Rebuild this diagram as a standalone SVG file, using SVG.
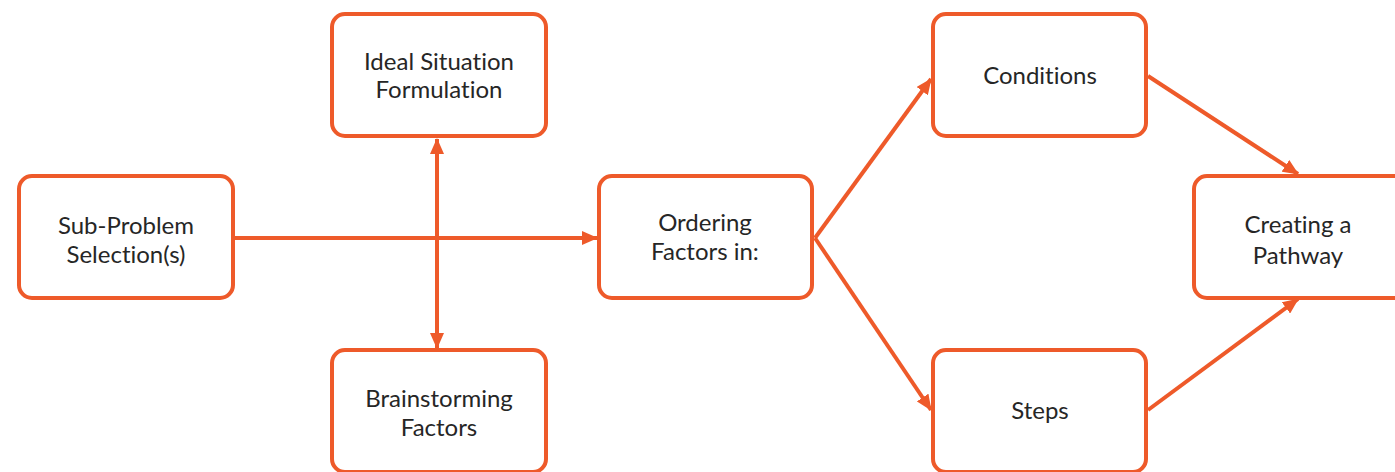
<svg xmlns="http://www.w3.org/2000/svg" width="1395" height="472" viewBox="0 0 1395 472">
  <defs>
    <style>
      .box { fill: #ffffff; stroke: #EE5A2A; stroke-width: 4; }
      .label { font-family: Lato, "Liberation Sans", sans-serif; font-size: 24px; fill: #262626; text-anchor: middle; font-variant-ligatures: none; }
      .link { fill: none; stroke: #EE5A2A; stroke-width: 4; }
    </style>
    <marker id="arrow" viewBox="0 0 16 14" refX="15" refY="7" markerWidth="16" markerHeight="14" markerUnits="userSpaceOnUse" orient="auto-start-reverse">
      <path d="M0,0 L16,7 L0,14 Z" fill="#EE5A2A"/>
    </marker>
  </defs>
  <rect width="1395" height="472" fill="#ffffff"/>

  <g id="connectors">
    <line class="link" x1="235" y1="238" x2="597" y2="238" marker-end="url(#arrow)"/>
    <line class="link" x1="437" y1="139" x2="437" y2="348" marker-start="url(#arrow)" marker-end="url(#arrow)"/>
    <line class="link" x1="815" y1="238" x2="931" y2="79" marker-end="url(#arrow)"/>
    <line class="link" x1="815" y1="238" x2="931" y2="410" marker-end="url(#arrow)"/>
    <line class="link" x1="1148" y1="76" x2="1298" y2="174" marker-end="url(#arrow)"/>
    <line class="link" x1="1148" y1="410" x2="1298" y2="299" marker-end="url(#arrow)"/>
  </g>

  <g id="sub-problem">
    <rect class="box" x="19" y="176" width="214" height="122" rx="13"/>
    <text class="label" x="126" y="234">Sub-Problem</text>
    <text class="label" x="126" y="263">Selection(s)</text>
  </g>

  <g id="ideal-situation">
    <rect class="box" x="332" y="14" width="214" height="122" rx="13"/>
    <text class="label" x="439" y="70">Ideal Situation</text>
    <text class="label" x="439" y="98">Formulation</text>
  </g>

  <g id="brainstorming">
    <rect class="box" x="332" y="350" width="214" height="122" rx="13"/>
    <text class="label" x="439" y="407">Brainstorming</text>
    <text class="label" x="439" y="436">Factors</text>
  </g>

  <g id="ordering">
    <rect class="box" x="599" y="176" width="213" height="122" rx="13"/>
    <text class="label" x="705" y="231">Ordering</text>
    <text class="label" x="705" y="260">Factors in:</text>
  </g>

  <g id="conditions">
    <rect class="box" x="933" y="14" width="213" height="122" rx="13"/>
    <text class="label" x="1040" y="84">Conditions</text>
  </g>

  <g id="steps">
    <rect class="box" x="933" y="350" width="213" height="122" rx="13"/>
    <text class="label" x="1040" y="419">Steps</text>
  </g>

  <g id="pathway">
    <rect class="box" x="1194" y="176" width="214" height="122" rx="13"/>
    <text class="label" x="1298" y="233">Creating a</text>
    <text class="label" x="1298" y="264">Pathway</text>
  </g>
</svg>
